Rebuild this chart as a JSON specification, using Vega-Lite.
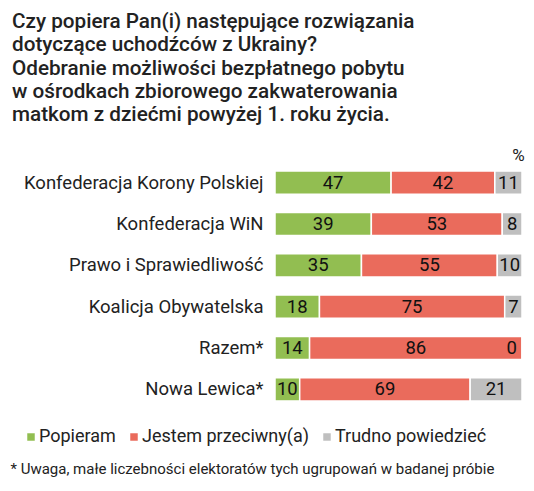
{
  "$schema": "https://vega.github.io/schema/vega-lite/v6.json",
  "width": 247,
  "height": 248,
  "autosize": {"type": "none"},
  "padding": {"left": 275, "top": 162, "right": 12, "bottom": 81},
  "background": "white",
  "config": {"view": {"stroke": null}, "font": "Roboto"},
  "title": {
    "text": ["Czy popiera Pan(i) następujące rozwiązania", "dotyczące uchodźców z Ukrainy?", "Odebranie możliwości bezpłatnego pobytu", "w ośrodkach zbiorowego zakwaterowania", "matkom z dziećmi powyżej 1. roku życia."],
    "anchor": "start",
    "frame": "group",
    "dx": -263,
    "offset": 20,
    "font": "Roboto",
    "fontSize": 20.7,
    "fontWeight": 500,
    "color": "#222222",
    "lineHeight": 23.3
  },
  "data": {
    "values": [
      {"party": "Konfederacja Korony Polskiej", "answer": "Popieram", "order": 1, "value": 47},
      {"party": "Konfederacja Korony Polskiej", "answer": "Jestem przeciwny(a)", "order": 2, "value": 42},
      {"party": "Konfederacja Korony Polskiej", "answer": "Trudno powiedzieć", "order": 3, "value": 11},
      {"party": "Konfederacja WiN", "answer": "Popieram", "order": 1, "value": 39},
      {"party": "Konfederacja WiN", "answer": "Jestem przeciwny(a)", "order": 2, "value": 53},
      {"party": "Konfederacja WiN", "answer": "Trudno powiedzieć", "order": 3, "value": 8},
      {"party": "Prawo i Sprawiedliwość", "answer": "Popieram", "order": 1, "value": 35},
      {"party": "Prawo i Sprawiedliwość", "answer": "Jestem przeciwny(a)", "order": 2, "value": 55},
      {"party": "Prawo i Sprawiedliwość", "answer": "Trudno powiedzieć", "order": 3, "value": 10},
      {"party": "Koalicja Obywatelska", "answer": "Popieram", "order": 1, "value": 18},
      {"party": "Koalicja Obywatelska", "answer": "Jestem przeciwny(a)", "order": 2, "value": 75},
      {"party": "Koalicja Obywatelska", "answer": "Trudno powiedzieć", "order": 3, "value": 7},
      {"party": "Razem*", "answer": "Popieram", "order": 1, "value": 14},
      {"party": "Razem*", "answer": "Jestem przeciwny(a)", "order": 2, "value": 86},
      {"party": "Razem*", "answer": "Trudno powiedzieć", "order": 3, "value": 0},
      {"party": "Nowa Lewica*", "answer": "Popieram", "order": 1, "value": 10},
      {"party": "Nowa Lewica*", "answer": "Jestem przeciwny(a)", "order": 2, "value": 69},
      {"party": "Nowa Lewica*", "answer": "Trudno powiedzieć", "order": 3, "value": 21}
    ]
  },
  "transform": [
    {"stack": "value", "groupby": ["party"], "sort": [{"field": "order", "order": "ascending"}], "as": ["v0", "v1"]},
    {"calculate": "(datum.v0 + datum.v1) / 2", "as": "mid"}
  ],
  "encoding": {
    "y": {
      "field": "party",
      "type": "nominal",
      "sort": ["Konfederacja Korony Polskiej", "Konfederacja WiN", "Prawo i Sprawiedliwość", "Koalicja Obywatelska", "Razem*", "Nowa Lewica*"],
      "scale": {"paddingInner": 0.44, "paddingOuter": 0.22},
      "axis": {
        "ticks": false,
        "domain": false,
        "grid": false,
        "labelFont": "Roboto",
        "labelFontSize": 18.5,
        "labelColor": "#222222",
        "labelPadding": 12,
        "labelLimit": 0,
        "title": "%",
        "titleAngle": 0,
        "titleX": 243,
        "titleY": -2,
        "titleAlign": "center",
        "titleBaseline": "alphabetic",
        "titleFont": "Roboto",
        "titleFontSize": 17,
        "titleFontWeight": "normal",
        "titleColor": "#222222"
      }
    }
  },
  "layer": [
    {
      "mark": {"type": "bar", "stroke": "white", "strokeWidth": 1.5},
      "encoding": {
        "x": {
          "field": "v0",
          "type": "quantitative",
          "scale": {"domain": [0, 100], "nice": false},
          "axis": {
            "labels": false,
            "ticks": false,
            "domain": false,
            "grid": false,
            "title": "* Uwaga, małe liczebności elektoratów tych ugrupowań  w badanej próbie",
            "titleX": -265,
            "titleY": 63,
            "titleAnchor": "start",
            "titleAlign": "left",
            "titleBaseline": "alphabetic",
            "titleFont": "Roboto",
            "titleFontSize": 15,
            "titleFontWeight": "normal",
            "titleColor": "#222222"
          }
        },
        "x2": {"field": "v1"},
        "color": {
          "field": "answer",
          "type": "nominal",
          "sort": ["Popieram", "Jestem przeciwny(a)", "Trudno powiedzieć"],
          "scale": {"domain": ["Popieram", "Jestem przeciwny(a)", "Trudno powiedzieć"], "range": ["#92BE51", "#EA6B5C", "#BFBFBF"]},
          "legend": {
            "orient": "none",
            "direction": "horizontal",
            "legendX": -253,
            "legendY": 266,
            "title": null,
            "symbolType": "square",
            "symbolSize": 56,
            "symbolStrokeWidth": 0,
            "labelFont": "Roboto",
            "labelFontSize": 18,
            "labelColor": "#222222",
            "labelOffset": -1,
            "labelLimit": 0,
            "columnPadding": 9
          }
        }
      }
    },
    {
      "transform": [{"filter": "datum.value > 0"}],
      "mark": {"type": "text", "font": "Roboto", "fontSize": 18.5, "color": "#111111", "baseline": "middle"},
      "encoding": {
        "x": {"field": "mid", "type": "quantitative"},
        "text": {"field": "value", "type": "quantitative"}
      }
    },
    {
      "transform": [{"filter": "datum.value == 0"}],
      "mark": {"type": "text", "font": "Roboto", "fontSize": 18.5, "color": "#111111", "align": "right", "dx": -5, "baseline": "middle"},
      "encoding": {
        "x": {"field": "v1", "type": "quantitative"},
        "text": {"field": "value", "type": "quantitative"}
      }
    }
  ]
}
